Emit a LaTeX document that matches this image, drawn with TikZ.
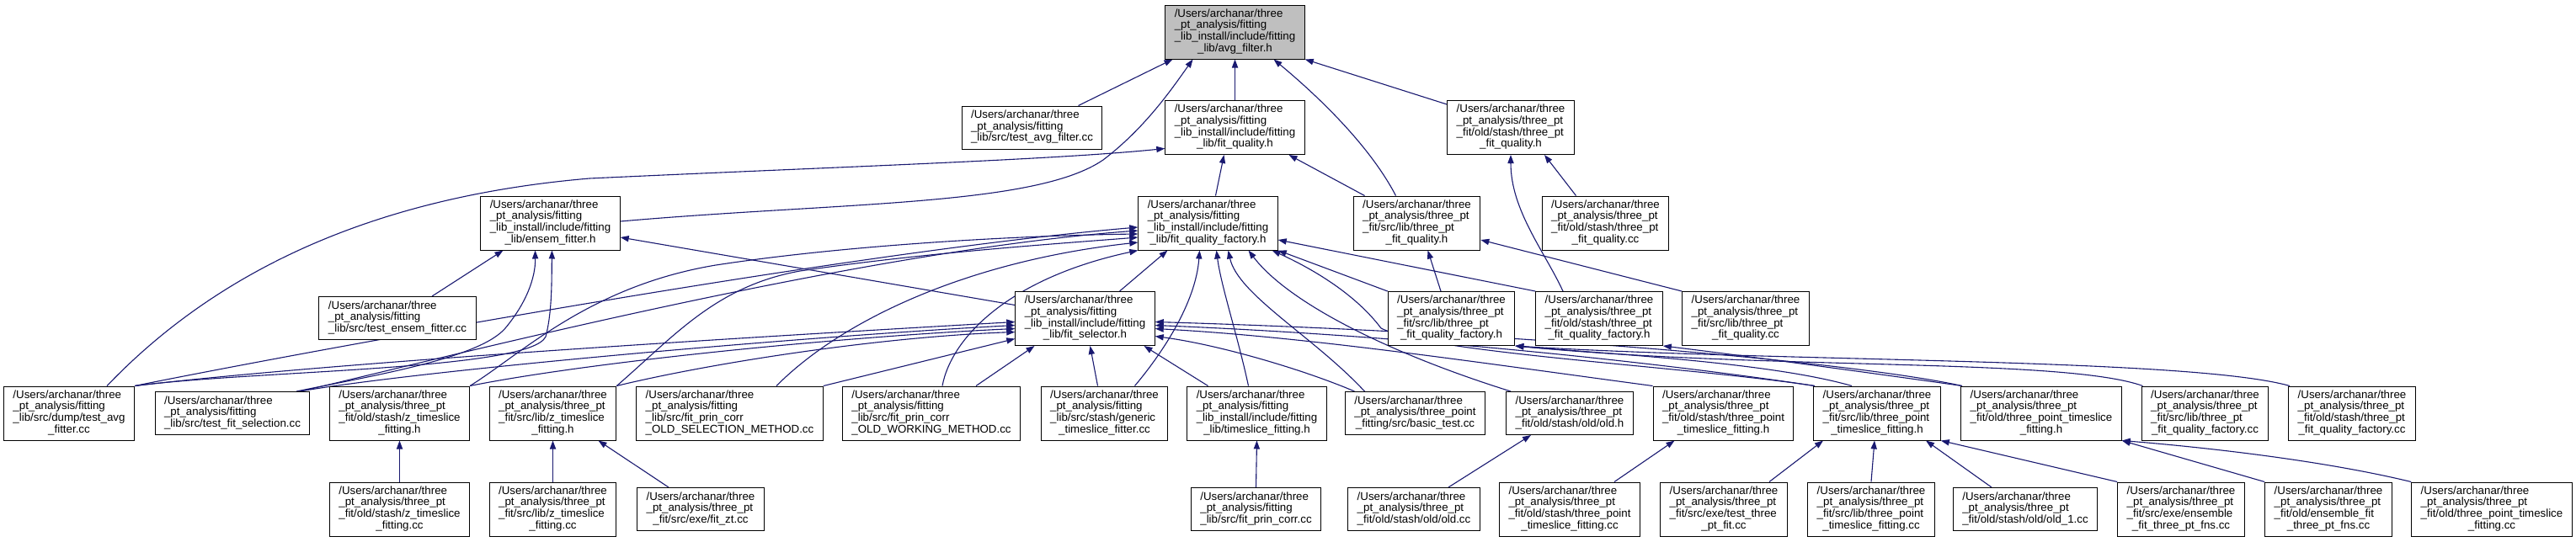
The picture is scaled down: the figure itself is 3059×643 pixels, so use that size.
\documentclass[tikz,border=0pt]{standalone}
\usepackage{fontspec}
\newfontfamily\dxf{Liberation Sans}
\usetikzlibrary{arrows.meta,calc}
\pgfdeclarelayer{bg}
\pgfsetlayers{bg,main}
\definecolor{edgeblue}{HTML}{191970}
\definecolor{hdrgray}{HTML}{BFBFBF}
\newcommand\dxt[2]{\begin{tabular}{@{}l@{}}#1\\\multicolumn{1}{@{}c@{}}{#2}\end{tabular}}
\newcommand\pF{/Users/archanar/three\\\_pt\_analysis/fitting}
\newcommand\pT{/Users/archanar/three\\\_pt\_analysis/three\_pt}
\begin{document}
\begin{tikzpicture}[x=0.5pt,y=-0.5pt,
 box/.style={draw=black,line width=0.5pt,fill=white,inner xsep=5.5pt,inner ysep=0pt,font=\dxf\fontsize{6.65}{6.8}\selectfont},
 n4/.style={box,minimum height=32pt},
 n3/.style={box,minimum height=25.5pt},
 e/.style={draw=edgeblue,line width=0.55pt,-{Triangle[length=5pt,width=3.6pt]}}]
\useasboundingbox (0,0) rectangle (3059,643);
% row 0
\node[n4,fill=hdrgray] (A) at (1466.5,38) {\dxt{\pF\\\_lib\_install/include/fitting}{\_lib/avg\_filter.h}};
% row 1
\node[n3] (B1) at (1225.5,151.5) {\dxt{\pF}{\_lib/src/test\_avg\_filter.cc}};
\node[n4] (B2) at (1466.5,151.5) {\dxt{\pF\\\_lib\_install/include/fitting}{\_lib/fit\_quality.h}};
\node[n4] (B3) at (1794,151.5) {\dxt{\pT\\\_fit/old/stash/three\_pt}{\_fit\_quality.h}};
% row 2
\node[n4] (C1) at (653.5,265) {\dxt{\pF\\\_lib\_install/include/fitting}{\_lib/ensem\_fitter.h}};
\node[n4] (C2) at (1434.5,265) {\dxt{\pF\\\_lib\_install/include/fitting}{\_lib/fit\_quality\_factory.h}};
\node[n4] (C3) at (1682.5,265) {\dxt{\pT\\\_fit/src/lib/three\_pt}{\_fit\_quality.h}};
\node[n4] (C4) at (1906.5,265) {\dxt{\pT\\\_fit/old/stash/three\_pt}{\_fit\_quality.cc}};
% row 3
\node[n3] (D1) at (472,378) {\dxt{\pF}{\_lib/src/test\_ensem\_fitter.cc}};
\node[n4] (D2) at (1288.5,378.5) {\dxt{\pF\\\_lib\_install/include/fitting}{\_lib/fit\_selector.h}};
\node[n4] (D3) at (1723.5,378.5) {\dxt{\pT\\\_fit/src/lib/three\_pt}{\_fit\_quality\_factory.h}};
\node[n4] (D4) at (1899,378.5) {\dxt{\pT\\\_fit/old/stash/three\_pt}{\_fit\_quality\_factory.h}};
\node[n4] (D5) at (2073,378.5) {\dxt{\pT\\\_fit/src/lib/three\_pt}{\_fit\_quality.cc}};
% row 4
\node[n4] (E1) at (82,491) {\dxt{\pF\\\_lib/src/dump/test\_avg}{\_fitter.cc}};
\node[n3] (E2) at (276,491) {\dxt{\pF}{\_lib/src/test\_fit\_selection.cc}};
\node[n4] (E3) at (474.5,491) {\dxt{\pT\\\_fit/old/stash/z\_timeslice}{\_fitting.h}};
\node[n4] (E4) at (656.5,491) {\dxt{\pT\\\_fit/src/lib/z\_timeslice}{\_fitting.h}};
\node[n4] (E5) at (866.5,491) {\dxt{\pF\\\_lib/src/fit\_prin\_corr}{\_OLD\_SELECTION\_METHOD.cc}};
\node[n4] (E6) at (1106,491) {\dxt{\pF\\\_lib/src/fit\_prin\_corr}{\_OLD\_WORKING\_METHOD.cc}};
\node[n4] (E7) at (1311.5,491) {\dxt{\pF\\\_lib/src/stash/generic}{\_timeslice\_fitter.cc}};
\node[n4] (E8) at (1492.5,491) {\dxt{\pF\\\_lib\_install/include/fitting}{\_lib/timeslice\_fitting.h}};
\node[n3] (E9) at (1680.5,491) {\dxt{/Users/archanar/three\\\_pt\_analysis/three\_point}{\_fitting/src/basic\_test.cc}};
\node[n3] (E10) at (1864,491) {\dxt{\pT}{\_fit/old/stash/old/old.h}};
\node[n4] (E11) at (2046.5,491) {\dxt{\pT\\\_fit/old/stash/three\_point}{\_timeslice\_fitting.h}};
\node[n4] (E12) at (2229,491) {\dxt{\pT\\\_fit/src/lib/three\_point}{\_timeslice\_fitting.h}};
\node[n4] (E13) at (2424,491) {\dxt{\pT\\\_fit/old/three\_point\_timeslice}{\_fitting.h}};
\node[n4] (E14) at (2618.5,491) {\dxt{\pT\\\_fit/src/lib/three\_pt}{\_fit\_quality\_factory.cc}};
\node[n4] (E15) at (2793,491) {\dxt{\pT\\\_fit/old/stash/three\_pt}{\_fit\_quality\_factory.cc}};
% row 5
\node[n4] (F1) at (474.5,605) {\dxt{\pT\\\_fit/old/stash/z\_timeslice}{\_fitting.cc}};
\node[n4] (F2) at (656.5,605) {\dxt{\pT\\\_fit/src/lib/z\_timeslice}{\_fitting.cc}};
\node[n3] (F3) at (832,605) {\dxt{\pT}{\_fit/src/exe/fit\_zt.cc}};
\node[n3] (F4) at (1491.5,605) {\dxt{\pF}{\_lib/src/fit\_prin\_corr.cc}};
\node[n3] (F5) at (1679,605) {\dxt{\pT}{\_fit/old/stash/old/old.cc}};
\node[n4] (F6) at (1864,605) {\dxt{\pT\\\_fit/old/stash/three\_point}{\_timeslice\_fitting.cc}};
\node[n4] (F7) at (2047,605) {\dxt{\pT\\\_fit/src/exe/test\_three}{\_pt\_fit.cc}};
\node[n4] (F8) at (2222,605) {\dxt{\pT\\\_fit/src/lib/three\_point}{\_timeslice\_fitting.cc}};
\node[n3] (F9) at (2405,605) {\dxt{\pT}{\_fit/old/stash/old/old\_1.cc}};
\node[n4] (F10) at (2590,605) {\dxt{\pT\\\_fit/src/exe/ensemble}{\_fit\_three\_pt\_fns.cc}};
\node[n4] (F11) at (2765,605) {\dxt{\pT\\\_fit/old/ensemble\_fit}{\_three\_pt\_fns.cc}};
\node[n4] (F12) at (2959,605) {\dxt{\pT\\\_fit/old/three\_point\_timeslice}{\_fitting.cc}};

\begin{pgfonlayer}{bg}
% into A
\draw[e] ([xshift=27.5pt]B1.north) -- ([xshift=-37pt]A.south);
\draw[e] ([yshift=1pt]C1.east) .. controls (1000,240) and (1230,245) .. (1310,190) .. controls (1360,152) and (1392,105) .. ([xshift=-25pt]A.south);
\draw[e] (B2.north) -- (A.south);
\draw[e] ([xshift=-12.5pt]C3.north) .. controls (1625,170) and (1560,110) .. ([xshift=23pt]A.south);
\draw[e] ([yshift=-2.5pt]B3.north west) -- (A.south east);
% into B2
\draw[e] ([xshift=22.5pt]E1.north) .. controls (250,330) and (430,235) .. (700,212) .. controls (1000,198) and (1250,190) .. ([yshift=-12.5pt]B2.west);
\draw[e] ([xshift=4.5pt]C2.north) -- ([xshift=-6.5pt]B2.south);
\draw[e] ([xshift=-31pt]C3.north) -- ([xshift=32pt]B2.south);
% into B3
\draw[e] ([xshift=-21.5pt]D4.north) .. controls (1835,300) and (1794,250) .. (B3.south);
\draw[e] ([xshift=-17.5pt]C4.north) -- ([xshift=20pt]B3.south);
% into C1
\draw[e] ([xshift=20.5pt]D1.north) -- ([xshift=-28pt]C1.south);
\draw[e] ([yshift=8pt]D2.west) -- ([yshift=-8.5pt]C1.east);
\draw[e] ([xshift=38pt]E2.north) .. controls (450,445) and (570,425) .. (600,390) .. controls (625,360) and (636,330) .. ([xshift=-9pt]C1.south);
\draw[e] (E1.north east) .. controls (300,440) and (630,440) .. (648,400) .. controls (656,370) and (655,330) .. ([xshift=1pt]C1.south);
% into C2
\draw[e] ([xshift=20.5pt]D2.north) -- ([xshift=-24pt]C2.south);
\draw[e] ([xshift=18pt]E7.north) .. controls (1380,420) and (1420,360) .. ([xshift=-5pt]C2.south);
\draw[e] ([xshift=-5pt]E8.north) .. controls (1470,400) and (1450,340) .. ([xshift=5pt]C2.south);
\draw[e] ([xshift=-30pt]E9.north) .. controls (1560,400) and (1470,350) .. ([xshift=12pt]C2.south);
\draw[e] ([xshift=-35pt]E10.north) .. controls (1650,420) and (1530,360) .. ([xshift=24pt]C2.south);
\draw[e] (D3.north west) -- (C2.south east);
\draw[e] ([xshift=-37pt]E12.north) .. controls (2000,435) and (1700,420) .. (1640,390) .. controls (1610,350) and (1560,320) .. ([xshift=38pt]C2.south);
\draw[e] (D4.north west) -- ([yshift=-10pt]C2.east);
\draw[e] (E1.north east) .. controls (350,420) and (1000,300) .. ([yshift=-2.5pt]C2.west);
\draw[e] ([xshift=40pt]E2.north) .. controls (470,440) and (1000,300) .. ([yshift=-4.5pt]C2.west);
\draw[e] (E3.north east) .. controls (620,420) and (700,340) .. (850,315) .. controls (1000,292) and (1200,280) .. ([yshift=-6.5pt]C2.west);
\draw[e] (E4.north east) .. controls (800,400) and (850,340) .. (950,322) .. controls (1100,300) and (1250,290) .. ([yshift=-8.5pt]C2.west);
\draw[e] ([xshift=27.75pt]E5.north) .. controls (1000,380) and (1150,310) .. ([yshift=-11.5pt]C2.west);
\draw[e] ([xshift=6.5pt]E6.north) .. controls (1130,400) and (1200,330) .. (C2.south west);
% into D2
\draw[e] (E1.north east) .. controls (400,430) and (900,400) .. ([yshift=-2pt]D2.west);
\draw[e] ([xshift=40pt]E2.north) .. controls (500,440) and (950,400) .. ([yshift=-4pt]D2.west);
\draw[e] (E3.north east) .. controls (700,430) and (1000,400) .. ([yshift=-6pt]D2.west);
\draw[e] (E4.north east) .. controls (850,430) and (1050,400) .. ([yshift=-8pt]D2.west);
\draw[e] (E5.north east) -- ([yshift=-12pt]D2.west);
\draw[e] ([xshift=26.5pt]E6.north) -- ([xshift=-30pt]D2.south);
\draw[e] ([xshift=-4pt]E7.north) -- ([xshift=3pt]D2.south);
\draw[e] ([xshift=-29pt]E8.north) -- ([xshift=35pt]D2.south);
\draw[e] ([xshift=-36pt]E9.north) .. controls (1550,440) and (1450,410) .. ([yshift=-10.5pt]D2.east);
\draw[e] (E11.north west) .. controls (1750,430) and (1550,400) .. ([yshift=-6pt]D2.east);
\draw[e] ([xshift=-37pt]E12.north) .. controls (2000,435) and (1700,400) .. ([yshift=-4pt]D2.east);
\draw[e] ([xshift=-47pt]E13.north) .. controls (2200,430) and (1800,395) .. ([yshift=-2pt]D2.east);
% into C3
\draw[e] ([xshift=-6.25pt]D3.north) -- ([xshift=6.5pt]C3.south);
\draw[e] (D5.north west) -- ([yshift=-10pt]C3.east);
% into D3, D4
\draw[e] ([xshift=-15pt]E12.north) .. controls (2100,430) and (1900,420) .. (D3.south east);
\draw[e] ([xshift=-37pt]E14.north) .. controls (2450,425) and (2100,440) .. (D3.south east);
\draw[e] ([xshift=-37pt]E15.north) .. controls (2600,425) and (2100,430) .. (D3.south east);
\draw[e] ([xshift=-47pt]E13.north) .. controls (2200,440) and (2050,420) .. (D4.south east);
% lower rows
\draw[e] (F1.north) -- (E3.south);
\draw[e] (F2.north) -- (E4.south);
\draw[e] ([xshift=-19pt]F3.north) -- ([xshift=27pt]E4.south);
\draw[e] (F4.north) -- (E8.south);
\draw[e] ([xshift=20.5pt]F5.north) -- ([xshift=-23pt]E10.south);
\draw[e] ([xshift=26.5pt]F6.north) -- ([xshift=-29pt]E11.south);
\draw[e] ([xshift=27pt]F7.north) -- ([xshift=-32pt]E12.south);
\draw[e] (F8.north) -- ([xshift=-1.5pt]E12.south);
\draw[e] ([xshift=-20pt]F9.north) -- ([xshift=29pt]E12.south);
\draw[e] (F10.north west) -- (E12.south east);
\draw[e] (F11.north west) -- (E13.south east);
\draw[e] (F12.north west) .. controls (2750,545) and (2600,530) .. (E13.south east);
\end{pgfonlayer}
\end{tikzpicture}
\end{document}
